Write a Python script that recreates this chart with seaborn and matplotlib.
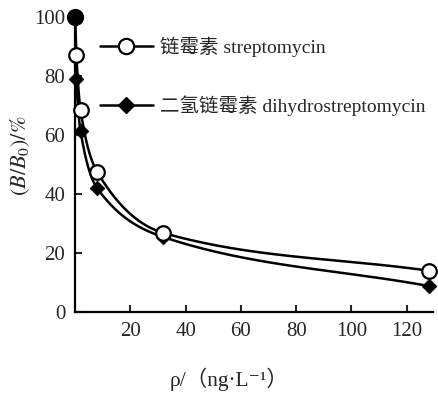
import numpy as np
import pandas as pd
import matplotlib
matplotlib.use("Agg")
import matplotlib.pyplot as plt
from matplotlib.lines import Line2D
import seaborn as sns

# Concentration (ng/L) and relative binding (B/B0, %)
conc = [0, 0.5, 2, 8, 32, 128]
strep = [100, 87, 68.5, 47.5, 26.8, 14.0]
dihydro = [100, 79, 61.4, 42, 25.4, 8.8]
names = ["链霉素 streptomycin", "二氢链霉素 dihydrostreptomycin"]
xticks = [20, 40, 60, 80, 100, 120]
yticks = [0, 20, 40, 60, 80, 100]

sns.set_theme(style="white")
plt.rcParams["font.family"] = ["Liberation Serif", "Noto Sans CJK SC", "DejaVu Sans"]
plt.rcParams["mathtext.fontset"] = "stix"


def pchip(x, y, n=60):
    """Monotone cubic path through the points, used only for drawing the curve."""
    x = np.asarray(x, float)
    y = np.asarray(y, float)
    h = np.diff(x)
    d = np.diff(y) / h
    m = np.zeros_like(y)
    for k in range(1, len(x) - 1):
        if d[k - 1] * d[k] > 0:
            w1 = 2 * h[k] + h[k - 1]
            w2 = h[k] + 2 * h[k - 1]
            m[k] = (w1 + w2) / (w1 / d[k - 1] + w2 / d[k])
    m[0] = d[0]
    m[-1] = d[-1]
    xs, ys = [], []
    for k in range(len(x) - 1):
        t = np.linspace(0, 1, n)
        h00 = 2 * t**3 - 3 * t**2 + 1
        h10 = t**3 - 2 * t**2 + t
        h01 = -2 * t**3 + 3 * t**2
        h11 = t**3 - t**2
        xs.append(x[k] + t * h[k])
        ys.append(h00 * y[k] + h10 * h[k] * m[k] + h01 * y[k + 1] + h11 * h[k] * m[k + 1])
    return np.concatenate(xs), np.concatenate(ys)


fig = plt.figure(figsize=(4.39, 3.93), dpi=100)
ax = fig.add_axes([75 / 439, 81 / 393, 358 / 439, 295 / 393])

for series in (strep, dihydro):
    px, py = pchip(conc, series)
    curve = pd.DataFrame({"x": px, "y": py})
    sns.lineplot(data=curve, x="x", y="y", ax=ax, color="black", lw=1.8,
                 sort=False, estimator=None)

pts_d = pd.DataFrame({"x": conc[1:], "y": dihydro[1:]})
sns.scatterplot(data=pts_d, x="x", y="y", ax=ax, marker="D", s=55,
                color="black", edgecolor="black", zorder=5, clip_on=False)
pts_s = pd.DataFrame({"x": conc[1:], "y": strep[1:]})
sns.scatterplot(data=pts_s, x="x", y="y", ax=ax, marker="o", s=110,
                facecolor="white", edgecolor="black", linewidth=1.6,
                zorder=6, clip_on=False)
# shared starting point
ax.scatter([conc[0]], [strep[0]], s=130, color="black", zorder=7, clip_on=False)

ax.set_xlim(0, 129.5)
ax.set_ylim(0, 100)
ax.set_xticks(xticks)
ax.set_yticks(yticks)
ax.tick_params(direction="in", length=5, width=1.5, labelsize=15, pad=7,
               bottom=True, left=True)
for side in ("top", "right"):
    ax.spines[side].set_visible(False)
for side in ("left", "bottom"):
    ax.spines[side].set_color("black")
    ax.spines[side].set_linewidth(1.6)

ax.set_xlabel("ρ/（ng·L⁻¹）", fontsize=15.5)
ax.xaxis.set_label_coords(0.43, -0.19)
ax.set_ylabel(r"$(\mathit{B}/\mathit{B}_0)/\%$", fontsize=16)
ax.yaxis.set_label_coords(-0.12, 0.53)

handles = [
    Line2D([], [], color="black", lw=1.8, marker="o", markersize=11,
           markerfacecolor="white", markeredgewidth=1.6),
    Line2D([], [], color="black", lw=1.8, marker="D", markersize=8),
]
leg = ax.legend(handles, names, loc="upper left", bbox_to_anchor=(0.07, 0.935),
                frameon=False, fontsize=14, handlelength=2.7, handletextpad=0.4,
                labelspacing=2.0, borderpad=0, borderaxespad=0)

fig.savefig("out.png", dpi=100)
